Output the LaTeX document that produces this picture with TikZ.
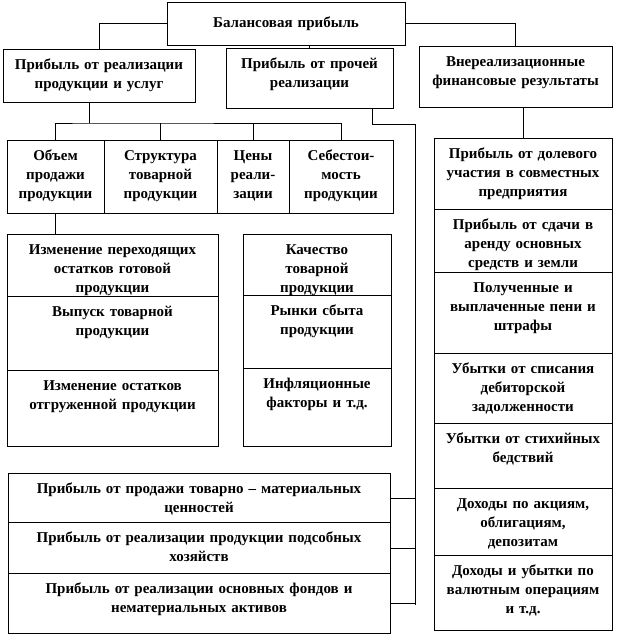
\documentclass[tikz,border=0pt]{standalone}
\usepackage{fontspec}
\setmainfont{Liberation Serif}
\usepackage{tikz}

\begin{document}
\begin{tikzpicture}[x=1pt, y=-1pt, line width=0.9pt,
    every node/.style={font=\bfseries\fontsize{15}{19}\selectfont},
    cell/.style 2 args={draw, anchor=north, align=center, inner sep=0pt,
        text width=#1pt, text height=20pt, text depth=#2pt}]
\useasboundingbox (0,0) rectangle (617,636);
% top level
\node[cell={238}{18}, text height=25pt] (bal) at (286,2) {Балансовая прибыль};
\node[cell={192}{33}] (pr) at (99,49) {Прибыль от реализации\\продукции и услуг};
\node[cell={167}{40}] (pp) at (309.5,48) {Прибыль от прочей\\реализации};
\node[cell={193}{41}] (vr) at (515.5,46) {Внереализационные\\финансовые результаты};
% factors
\node[cell={97}{53}] (f1) at (55.5,140) {Объем\\продажи\\продукции};
\node[cell={113}{53}] (f2) at (160.5,140) {Структура\\товарной\\продукции};
\node[cell={72}{53}] (f3) at (253,140) {Цены\\реали-\\зации};
\node[cell={104}{53}] (f4) at (341,140) {Себестои-\\мость\\продукции};
% sales volume
\node[cell={211}{42}] (s1) at (112.5,234) {Изменение переходящих\\остатков готовой\\продукции};
\node[cell={211}{54}] (s2) at (112.5,296) {Выпуск товарной\\продукции};
\node[cell={211}{56}] (s3) at (112.5,370) {Изменение остатков\\отгруженной продукции};
% other factors
\node[cell={148}{41}] (q1) at (317,234) {Качество\\товарной\\продукции};
\node[cell={148}{53}] (q2) at (317,295) {Рынки сбыта\\продукции};
\node[cell={148}{58}] (q3) at (317,368) {Инфляционные\\факторы и т.д.};
% other sales
\node[cell={382}{29}] (d1) at (199,473) {Прибыль от продажи товарно -- материальных\\ценностей};
\node[cell={382}{31}] (d2) at (199,522) {Прибыль от реализации продукции подсобных\\хозяйств};
\node[cell={382}{40}] (d3) at (199,573) {Прибыль от реализации основных фондов и\\нематериальных активов};
% non-operating results
\node[cell={178}{51}] (e1) at (523,138) {Прибыль от долевого\\участия в совместных\\предприятия};
\node[cell={178}{43}] (e2) at (523,209) {Прибыль от сдачи в\\аренду основных\\средств и земли};
\node[cell={178}{61}] (e3) at (523,272) {Полученные и\\выплаченные пени и\\штрафы};
\node[cell={178}{50}] (e4) at (523,353) {Убытки от списания\\дебиторской\\задолженности};
\node[cell={178}{45}] (e5) at (523,423) {Убытки от стихийных\\бедствий};
\node[cell={178}{47}] (e6) at (523,488) {Доходы по акциям,\\облигациям,\\депозитам};
\node[cell={178}{55}] (e7) at (523,555) {Доходы и убытки по\\валютным операциям\\и т.д.};
% connectors
\draw (bal.west) -| (pr.north);
\draw (pp.north) -- (pp.north |- bal.south);
\draw (bal.east) -| (vr.north);
\coordinate (j1) at (89,123);
\draw (j1 |- pr.south) -- (j1);
\draw (f1.north) |- (j1) -| (f4.north);
\foreach \f in {f2,f3} {
    \draw (\f.north) -- (\f.north |- j1);
}
\draw (f1.south) -- (f1.south |- s1.north);
\coordinate (j2) at (372,124);
\coordinate (bus) at (415,124);
\coordinate (busend) at (415,605);
\draw (j2 |- pp.south) -- (j2) -- (bus) -- (busend);
\foreach \d in {d1,d2,d3} {
    \draw (\d.east) -- (\d.east -| bus);
}
\draw (e1.north) -- (e1.north |- vr.south);
\end{tikzpicture}
\end{document}
